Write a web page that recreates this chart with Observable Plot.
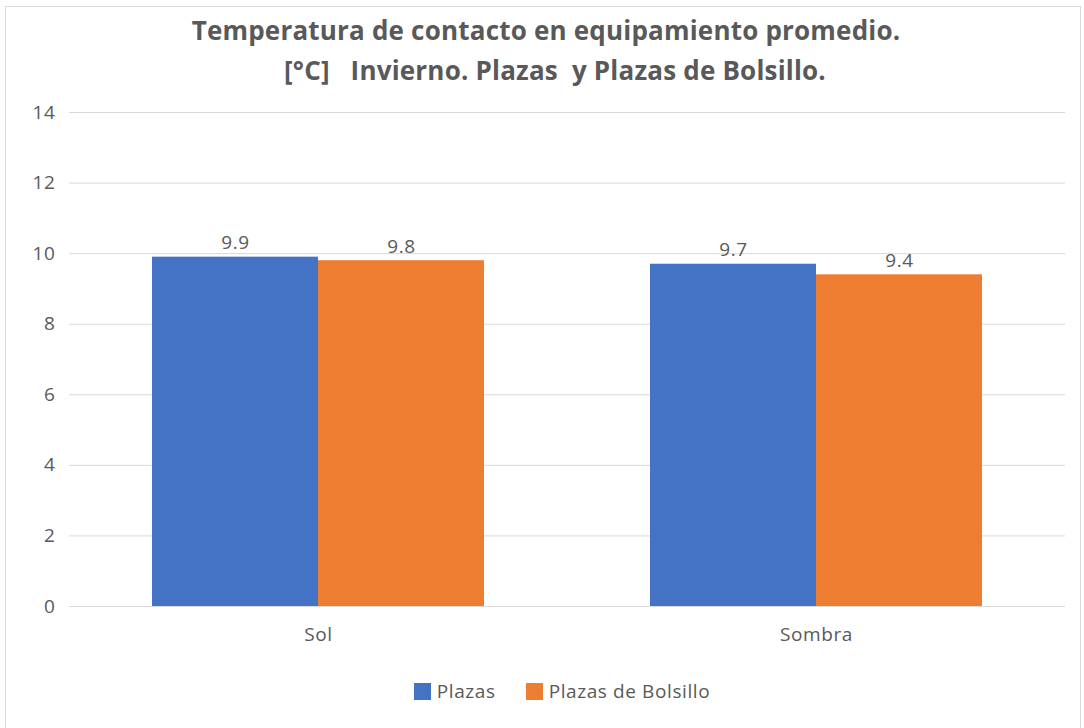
<!DOCTYPE html>
<html>
<head>
<meta charset="utf-8">
<script src="https://cdn.jsdelivr.net/npm/d3@7"></script>
<script src="https://cdn.jsdelivr.net/npm/@observablehq/plot@0.6"></script>
<style>
  html, body { margin: 0; padding: 0; background: #fff; }
  #frame { position: absolute; left: 5px; top: 6px; width: 1076px; height: 724px; border: 1px solid #d9d9d9; box-sizing: border-box; background:#fff; }
  #title { position: absolute; left: 0; top: 10px; width: 1092px; text-align: center; font-family: "Open Sans", sans-serif; font-weight: 700; font-size: 26px; letter-spacing: 0.2px; line-height: 40px; color: #595959; }
  #title .l2 { position: relative; left: 9px; }
  #chart { position: absolute; left: 0; top: 100px; }
  #legend { position: absolute; left: 0; top: 678px; width: 1124px; display: flex; justify-content: center; gap: 30px; font-family: "Open Sans", sans-serif; font-size: 19px; letter-spacing: 0.6px; color: #595959; }
  .sw { display: inline-flex; align-items: center; gap: 6px; }
  .sw i { display: inline-block; width: 17px; height: 17px; }
  #chart svg text { letter-spacing: 0.6px; }
</style>
</head>
<body>
<div id="frame"></div>
<div id="title">Temperatura de contacto en equipamiento promedio.<br><span class="l2">[°C]&nbsp;&nbsp; Invierno. Plazas&nbsp; y Plazas de Bolsillo.</span></div>
<div id="chart"></div>
<div id="legend"></div>
<script>
const categories = ["Sol", "Sombra"];
const series = ["Plazas", "Plazas de Bolsillo"];
const plazas = [9.9, 9.7];
const bolsillo = [9.8, 9.4];
const colors = ["#4472C4", "#ED7D31"];
const yTicks = [0, 2, 4, 6, 8, 10, 12, 14];

const data = [];
categories.forEach((c, i) => {
  data.push({cat: c, serie: series[0], value: plazas[i]});
  data.push({cat: c, serie: series[1], value: bolsillo[i]});
});

const chart = Plot.plot({
  width: 1084,
  height: 560,
  marginTop: 12,
  marginBottom: 54,
  marginLeft: 69,
  marginRight: 19,
  style: {fontFamily: "'Open Sans', sans-serif", fontSize: "19px", color: "#595959", background: "transparent"},
  fx: {domain: categories, padding: 0, label: null, axis: "bottom", tickSize: 0, tickPadding: 21},
  x: {domain: series, paddingInner: 0, paddingOuter: 0.5, axis: null},
  y: {domain: [0, 14], ticks: yTicks, label: null, tickSize: 0, tickPadding: 14, tickFormat: d => String(d)},
  color: {domain: series, range: colors},
  marks: [
    Plot.gridY(yTicks, {stroke: "#d9d9d9", strokeOpacity: 1, strokeWidth: 1}),
    Plot.barY(data, {fx: "cat", x: "serie", y: "value", fill: "serie"}),
    Plot.text(data, {fx: "cat", x: "serie", y: "value", text: d => d.value.toFixed(1), dy: -14, fill: "#595959", fontSize: 19})
  ]
});
document.getElementById("chart").appendChild(chart);

const leg = document.getElementById("legend");
series.forEach((s, i) => {
  const span = document.createElement("span");
  span.className = "sw";
  const sq = document.createElement("i");
  sq.style.background = colors[i];
  span.appendChild(sq);
  span.appendChild(document.createTextNode(s));
  leg.appendChild(span);
});
</script>
</body>
</html>
